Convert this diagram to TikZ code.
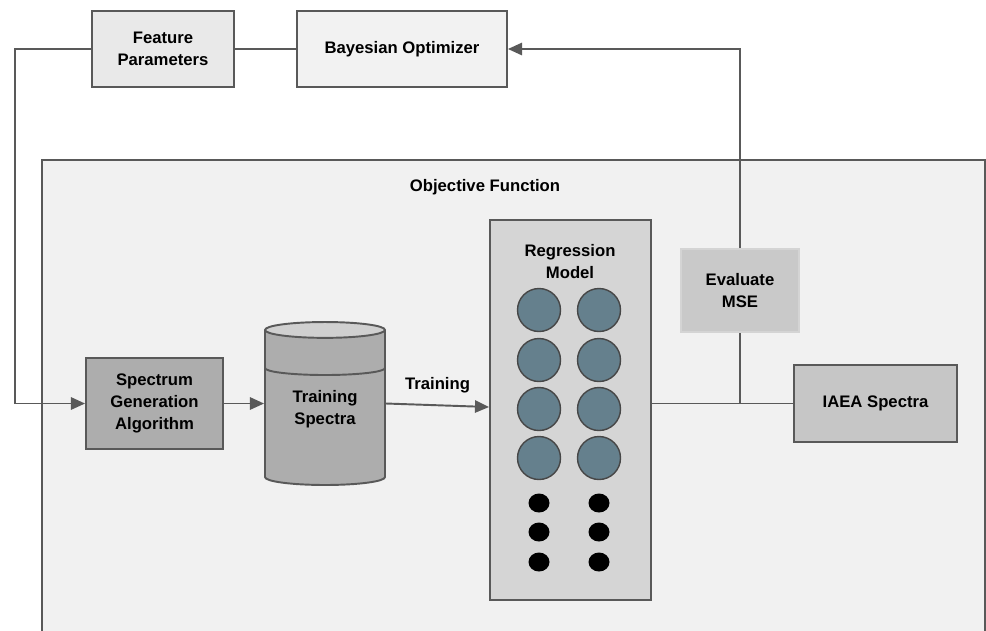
\documentclass[tikz,border=0pt]{standalone}
\usepackage{fontspec}
\setmainfont{Liberation Sans}
\usepackage{xcolor}
\usetikzlibrary{arrows.meta,positioning,shapes.geometric}
\definecolor{linegray}{HTML}{595959}
\definecolor{objbg}{HTML}{F1F1F1}
\definecolor{featfill}{HTML}{E9E9E9}
\definecolor{bayesfill}{HTML}{F2F2F2}
\definecolor{darkfill}{HTML}{ADADAD}
\definecolor{lidfill}{HTML}{D0D0D0}
\definecolor{regfill}{HTML}{D5D5D5}
\definecolor{evalfill}{HTML}{C9C9C9}
\definecolor{iaeafill}{HTML}{C6C6C6}
\definecolor{neuronfill}{HTML}{65808D}

\begin{document}
\begin{tikzpicture}[x=0.02cm,y=-0.02cm,
  font=\fontsize{9.5}{12.5}\selectfont\bfseries,
  blk/.style={draw=linegray,line width=1.1pt,align=center,inner sep=2pt},
  edge/.style={draw=linegray,line width=1.1pt},
  arr/.style={edge,-{Triangle[length=8pt,width=7pt]}},
  neuron/.style={circle,draw=linegray!80!black,line width=0.8pt,fill=neuronfill,minimum size=0.86cm,inner sep=0pt},
  etc/.style={ellipse,fill=black,minimum width=0.42cm,minimum height=0.38cm,inner sep=0pt}]
\useasboundingbox (0,0) rectangle (986,630);
% objective function frame
\draw[edge,fill=objbg] (42,660) -- (42,160) -- (985,160) -- (985,660);
\node (objlabel) at (485,187) {Objective Function};

\node[blk,fill=featfill,minimum width=2.84cm,minimum height=1.52cm] (feat) at (163,49) {Feature\\Parameters};
\node[blk,fill=bayesfill,minimum width=4.2cm,minimum height=1.52cm] (bayes) at (402,49) {Bayesian Optimizer};
\node[blk,fill=darkfill,minimum width=2.74cm,minimum height=1.82cm] (specgen) at (154.5,403.5) {Spectrum\\Generation\\Algorithm};
\node[cylinder,shape border rotate=90,aspect=0.22,draw=linegray,line width=1.1pt,cylinder uses custom fill,cylinder body fill=darkfill,cylinder end fill=lidfill,minimum width=2.4cm,minimum height=3.26cm,align=center,inner sep=2pt,anchor=shape center] (trainspec) at (325,403.5) {Training\\Spectra};
\draw[edge] (265,368) arc[start angle=180,end angle=0,x radius=60,y radius=7];
\node[blk,fill=regfill,minimum width=3.22cm,minimum height=7.6cm] (regbox) at (570.5,410) {};
\node[align=center] (reglabel) at (570,262) {Regression\\Model};
\foreach \col in {539,599} {
  \foreach \row in {310,360,409,458}
    \node[neuron] at (\col,\row) {};
  \foreach \row in {503,532,562}
    \node[etc] at (\col,\row) {};
}
\node[blk,draw=evalfill!80!white,fill=evalfill,minimum width=2.36cm,minimum height=1.66cm] (eval) at (740,290.5) {Evaluate\\MSE};
\node[blk,fill=iaeafill,minimum width=3.26cm,minimum height=1.54cm] (iaea) at (875.5,403.5) {IAEA Spectra};

% connectors
\coordinate (loopL) at (15,49);
\coordinate (mseJoin) at (eval.south |- iaea.west);
\draw[edge] (bayes) -- (feat);
\draw[arr] (feat.west) -- (loopL) |- (specgen.west);
\draw[arr] (specgen.east) -- (specgen.east -| trainspec.west);
\draw[arr] (specgen.east -| trainspec.east) -- node[above=3pt] {Training} ([yshift=0.06cm]regbox.west);
\draw[edge] (regbox.east |- iaea.west) -- (iaea.west);
\draw[edge] (eval.south) -- (mseJoin);
\draw[arr] (eval.north) |- (bayes.east);
\end{tikzpicture}
\end{document}
